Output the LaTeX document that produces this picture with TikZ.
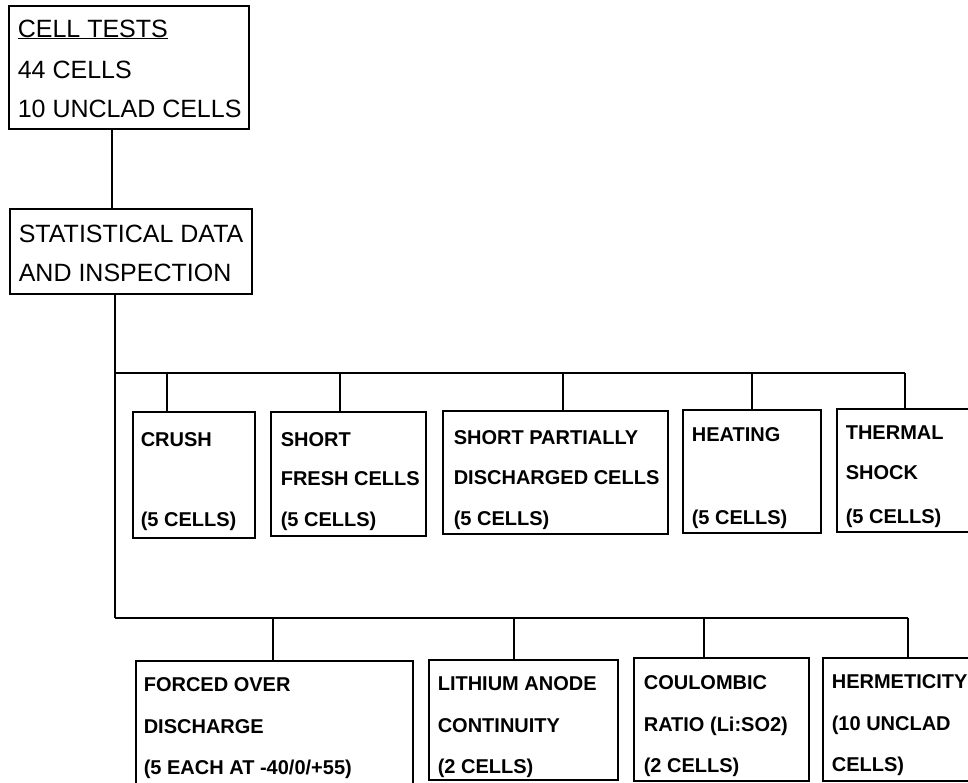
\documentclass[tikz,border=0pt]{standalone}
\usepackage{fontspec}
\setmainfont{Liberation Sans}
\begin{document}
\begin{tikzpicture}[x=1pt,y=-1pt, line width=1.6pt,
  box/.style={draw, anchor=north west, inner sep=0pt, line width=1.6pt},
  big/.style={anchor=base west, inner sep=0pt, font=\fontsize{25}{29}\selectfont},
  small/.style={anchor=base west, inner sep=0pt, font=\bfseries\fontsize{20}{24}\selectfont}]
\useasboundingbox (0,0) rectangle (968,782);
\clip (0,0) rectangle (968,782);
% boxes
\node[box, minimum width=240pt, minimum height=123pt] (top) at (8,5) {};
\node[box, minimum width=242pt, minimum height=85pt] (stat) at (9,208) {};
\node[box, minimum width=122pt, minimum height=126pt] (crush) at (132,411) {};
\node[box, minimum width=155pt, minimum height=124pt] (short) at (270,411) {};
\node[box, minimum width=225pt, minimum height=123pt] (sp) at (442,410) {};
\node[box, minimum width=138pt, minimum height=123pt] (heat) at (682,409) {};
\node[box, minimum width=150pt, minimum height=123pt] (therm) at (836,408) {};
\node[box, minimum width=277pt, minimum height=130pt] (forced) at (135,660) {};
\node[box, minimum width=189pt, minimum height=120pt] (lith) at (428,659) {};
\node[box, minimum width=175pt, minimum height=123pt] (coul) at (633,657) {};
\node[box, minimum width=170pt, minimum height=123pt] (herm) at (822,657) {};
% texts
\node[big] (t1) at (17,37) {\underline{CELL TESTS}};
\node[big] (t2) at (17,78) {44 CELLS};
\node[big] (t3) at (17,117) {10 UNCLAD CELLS};
\node[big] (s1) at (18,242) {STATISTICAL DATA};
\node[big] (s2) at (18,281) {AND INSPECTION};
\node[small] (c1) at (140,446) {CRUSH};
\node[small] (c2) at (140,526) {(5 CELLS)};
\node[small] (f1) at (280,446) {SHORT};
\node[small] (f2) at (280,485) {FRESH CELLS};
\node[small] (f3) at (280,526) {(5 CELLS)};
\node[small] (p1) at (453,444) {SHORT PARTIALLY};
\node[small] (p2) at (453,484) {DISCHARGED CELLS};
\node[small] (p3) at (453,525) {(5 CELLS)};
\node[small] (h1) at (691,441) {HEATING};
\node[small] (h2) at (691,524) {(5 CELLS)};
\node[small] (m1) at (845,439) {THERMAL};
\node[small] (m2) at (845,479) {SHOCK};
\node[small] (m3) at (845,523) {(5 CELLS)};
\node[small] (o1) at (143,691) {FORCED OVER};
\node[small] (o2) at (143,733) {DISCHARGE};
\node[small] (o3) at (143,774) {(5 EACH AT -40/0/+55)};
\node[small] (l1) at (437,690) {LITHIUM ANODE};
\node[small] (l2) at (437,732) {CONTINUITY};
\node[small] (l3) at (437,773) {(2 CELLS)};
\node[small] (r1) at (643,689) {COULOMBIC};
\node[small] (r2) at (643,731) {RATIO (Li:SO2)};
\node[small] (r3) at (643,772) {(2 CELLS)};
\node[small] (e1t) at (831,688) {HERMETICITY};
\node[small] (e2t) at (831,730) {(10 UNCLAD};
\node[small] (e3t) at (831,771) {CELLS)};
% connectors
\coordinate (x1) at (112,0);
\draw (top.south -| x1) -- (stat.north -| x1);
\coordinate (x0) at (115,0);
\coordinate (j1) at (115,373);
\coordinate (j2) at (115,618);
\coordinate (d1) at (167,373);
\coordinate (d2) at (340,373);
\coordinate (d3) at (563,373);
\coordinate (d4) at (752,373);
\coordinate (d5) at (905,373);
\coordinate (e1) at (273,618);
\coordinate (e2) at (514,618);
\coordinate (e3) at (704,618);
\coordinate (e4) at (908,618);
\draw (stat.south -| x0) -- (j2);
\draw (j1) -- (d5);
\draw (j2) -- (e4);
\draw (d1) -- (d1 |- crush.north);
\draw (d2) -- (d2 |- short.north);
\draw (d3) -- (d3 |- sp.north);
\draw (d4) -- (d4 |- heat.north);
\draw (d5) -- (d5 |- therm.north);
\draw (e1) -- (e1 |- forced.north);
\draw (e2) -- (e2 |- lith.north);
\draw (e3) -- (e3 |- coul.north);
\draw (e4) -- (e4 |- herm.north);
\end{tikzpicture}
\end{document}
